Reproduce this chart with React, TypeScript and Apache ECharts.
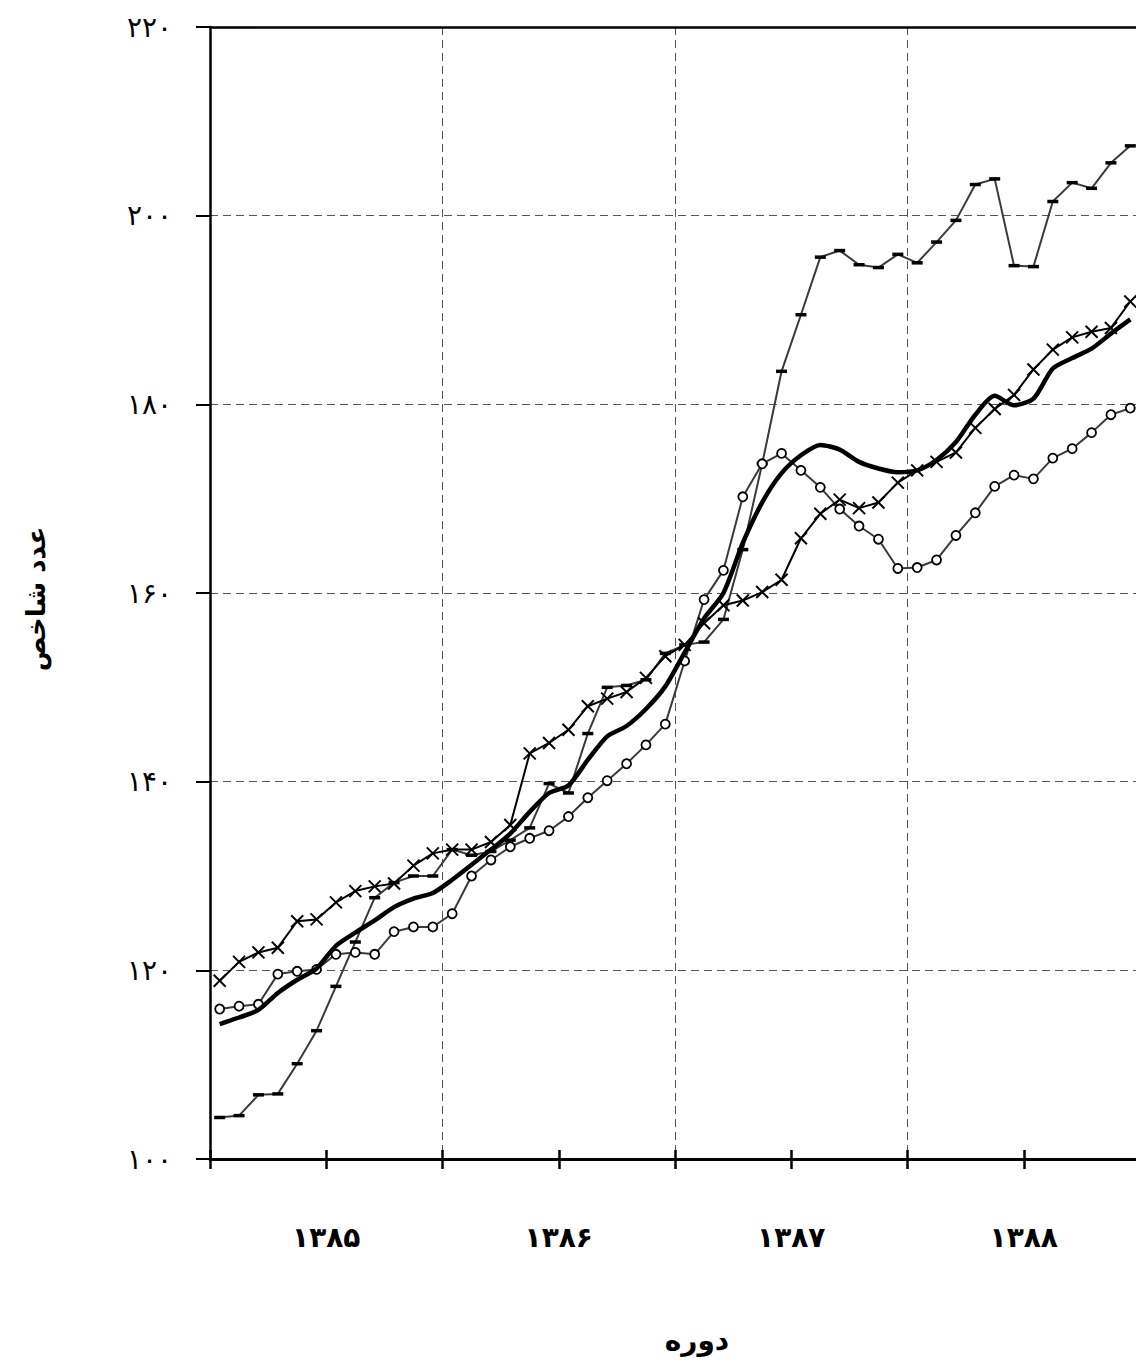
import React, { useEffect, useRef } from "react";
import * as echarts from "echarts";

const years = ["۱۳۸۵", "۱۳۸۶", "۱۳۸۷", "۱۳۸۸"];
const monthsPerYear = 12;
const yTicks = [100, 120, 140, 160, 180, 200, 220];

const totalIndex = [114.3, 115.0, 115.8, 117.6, 119.0, 120.2, 122.6, 124.0, 125.3, 126.7, 127.6, 128.2,
  129.6, 131.2, 132.8, 134.5, 136.8, 138.8, 139.6, 142.3, 144.8, 145.9, 147.7, 150.1,
  153.7, 157.3, 160.0, 165.3, 169.6, 172.7, 174.6, 175.7, 175.2, 173.9, 173.2, 172.8,
  173.0, 174.1, 176.0, 178.9, 180.9, 179.9, 180.6, 183.8, 184.9, 185.9, 187.5, 189.0];

const crossSeries = [118.9, 120.9, 121.9, 122.4, 125.2, 125.4, 127.2, 128.4, 128.9, 129.2, 131.1, 132.4,
  132.8, 132.8, 133.6, 135.4, 143.0, 144.1, 145.5, 148.0, 148.8, 149.5, 151.0, 153.3,
  154.5, 156.8, 158.7, 159.2, 160.1, 161.4, 165.8, 168.4, 169.9, 169.0, 169.6, 171.7,
  173.0, 173.9, 174.9, 177.5, 179.5, 181.0, 183.7, 185.8, 187.1, 187.7, 188.1, 190.9];

const circleSeries = [115.9, 116.2, 116.4, 119.6, 119.9, 120.1, 121.7, 121.9, 121.7, 124.1, 124.6, 124.6,
  126.0, 130.0, 131.7, 133.1, 134.0, 134.8, 136.3, 138.3, 140.1, 141.9, 143.9, 146.1,
  152.8, 159.3, 162.4, 170.2, 173.7, 174.8, 173.0, 171.2, 168.9, 167.1, 165.7, 162.6,
  162.7, 163.5, 166.1, 168.5, 171.3, 172.5, 172.1, 174.3, 175.3, 177.0, 178.9, 179.6];

const dashSeries = [104.4, 104.6, 106.8, 106.9, 110.1, 113.6, 118.3, 123.0, 127.7, 129.3, 130.0, 130.0,
  132.8, 132.2, 132.6, 133.8, 135.1, 139.8, 138.8, 145.1, 150.0, 150.2, 150.8, 153.6,
  154.5, 154.8, 157.2, 164.6, 173.7, 183.5, 189.5, 195.6, 196.3, 194.8, 194.5, 195.9,
  195.0, 197.2, 199.5, 203.3, 203.9, 194.7, 194.6, 201.5, 203.5, 202.9, 205.6, 207.4];

const yAxisTitle = "عدد شاخص";
const xAxisTitle = "دوره";

const persianDigits = "۰۱۲۳۴۵۶۷۸۹";
const toPersian = (n: number | string) =>
  String(n).replace(/[0-9]/g, (d) => persianDigits[Number(d)]);

const categories: string[] = [];
years.forEach((y) => {
  for (let m = 1; m <= monthsPerYear; m++) categories.push(y + "/" + toPersian(m));
});

export default function App() {
  const ref = useRef<HTMLDivElement>(null);
  useEffect(() => {
    if (!ref.current) return;
    const chart = echarts.init(ref.current, undefined, { renderer: "svg" });
    const totalCats = categories.length;
    const yearLabelAt: Record<number, string> = {};
    years.forEach((y, i) => {
      yearLabelAt[i * monthsPerYear + monthsPerYear / 2] = y;
    });
    const gridColor = "#555";
    const crossHalf = 6;
    chart.setOption({
      animation: false,
      backgroundColor: "#fff",
      grid: { left: 210, top: 27, width: 930, height: 1132, containLabel: false },
      xAxis: [
        {
          type: "category",
          data: categories,
          boundaryGap: true,
          position: "bottom",
          axisLine: { show: false },
          axisTick: { show: true, interval: 5, inside: true, length: 9, lineStyle: { color: "#000", width: 2.5 } },
          axisLabel: { show: false },
          splitLine: { show: true, interval: 11, lineStyle: { color: gridColor, width: 1, type: [8, 5] } },
        },
        {
          type: "value",
          min: 0,
          max: totalCats,
          interval: 6,
          position: "bottom",
          axisLine: { show: true, lineStyle: { color: "#000", width: 3 } },
          axisTick: { show: true, length: 10, lineStyle: { color: "#000", width: 2.5 } },
          splitLine: { show: false },
          axisLabel: {
            show: true,
            margin: 64,
            formatter: (v: number) => yearLabelAt[v] || "",
            color: "#000",
            fontSize: 28,
            fontWeight: "bold",
            fontFamily: "DejaVu Sans",
          },
        },
        {
          type: "value",
          min: 0,
          max: totalCats,
          position: "top",
          axisLine: { show: true, lineStyle: { color: "#000", width: 2.5 } },
          axisTick: { show: false },
          axisLabel: { show: false },
          splitLine: { show: false },
        },
      ],
      yAxis: {
        type: "value",
        min: yTicks[0],
        max: yTicks[yTicks.length - 1],
        interval: 20,
        axisLine: { show: true, lineStyle: { color: "#000", width: 2.5 } },
        axisTick: { show: true, length: 14, lineStyle: { color: "#000", width: 2 } },
        axisLabel: {
          margin: 38,
          formatter: (v: number) => toPersian(v),
          color: "#000",
          fontSize: 28,
          fontFamily: "DejaVu Sans",
        },
        splitLine: {
          show: true,
          lineStyle: {
            color: yTicks.map((t, i) => (i === 0 || i === yTicks.length - 1 ? "rgba(0,0,0,0)" : gridColor)),
            width: 1,
            type: [8, 5],
          },
        },
      },
      graphic: [
        {
          type: "text",
          x: 36,
          y: 599,
          rotation: Math.PI / 2,
          style: {
            text: yAxisTitle,
            font: "bold 26px 'DejaVu Sans'",
            fill: "#000",
            textAlign: "center",
            textVerticalAlign: "middle",
          },
        },
        {
          type: "text",
          x: 697,
          y: 1340,
          style: {
            text: xAxisTitle,
            font: "bold 28px 'DejaVu Sans'",
            fill: "#000",
            textAlign: "center",
            textVerticalAlign: "middle",
          },
        },
      ],
      series: [
        {
          type: "line",
          data: dashSeries,
          symbol: "rect",
          symbolSize: [11, 3.5],
          itemStyle: { color: "#000", borderWidth: 0 },
          lineStyle: { color: "#3a3a3a", width: 2 },
          z: 2,
        },
        {
          type: "line",
          data: circleSeries,
          symbol: "circle",
          symbolSize: 9,
          itemStyle: { color: "#fff", borderColor: "#000", borderWidth: 1.8 },
          lineStyle: { color: "#3a3a3a", width: 2 },
          z: 3,
        },
        {
          type: "line",
          data: totalIndex,
          showSymbol: false,
          symbol: "none",
          smooth: 0.25,
          lineStyle: { color: "#000", width: 4.5 },
          z: 4,
        },
        {
          type: "line",
          data: crossSeries,
          symbol: "none",
          lineStyle: { color: "#000", width: 2 },
          z: 5,
        },
        {
          type: "custom",
          data: crossSeries.map((v, i) => [i, v]),
          z: 6,
          renderItem: (params: any, api: any) => {
            const p = api.coord([api.value(0), api.value(1)]);
            const s = crossHalf;
            return {
              type: "group",
              children: [
                {
                  type: "line",
                  shape: { x1: p[0] - s, y1: p[1] - s, x2: p[0] + s, y2: p[1] + s },
                  style: { stroke: "#000", lineWidth: 2 },
                },
                {
                  type: "line",
                  shape: { x1: p[0] - s, y1: p[1] + s, x2: p[0] + s, y2: p[1] - s },
                  style: { stroke: "#000", lineWidth: 2 },
                },
              ],
            };
          },
        },
      ],
    });
    return () => chart.dispose();
  }, []);
  return (
    <div
      style={{
        position: "fixed",
        left: 0,
        top: 0,
        width: 1136,
        height: 1363,
        overflow: "hidden",
        background: "#fff",
      }}
    >
      <div ref={ref} style={{ width: 1170, height: 1363 }} />
    </div>
  );
}
